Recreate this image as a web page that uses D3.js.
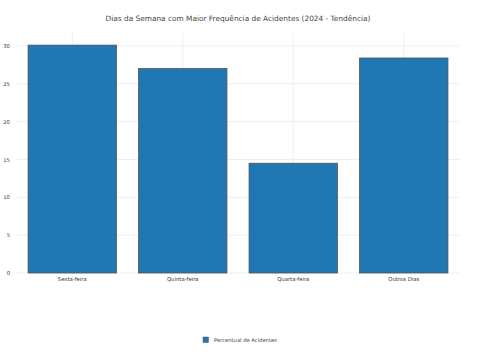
<!DOCTYPE html>
<html><head><meta charset="utf-8">
<script src="https://cdn.jsdelivr.net/npm/d3@7"></script>
<style>body{margin:0;background:#fff;} svg{display:block;font-family:"DejaVu Sans",Verdana,Arial,sans-serif;}</style>
</head><body>
<script>
const categories = ["Sexta-feira","Quinta-feira","Quarta-feira","Outros Dias"];
const values = [30.1, 27.0, 14.5, 28.4];
const yTicks = [0,5,10,15,20,25,30];
const title = "Dias da Semana com Maior Frequência de Acidentes (2024 - Tendência)";
const seriesName = "Percentual de Acidentes";

const W=483,H=356;
const m={l:17,r:24,t:33,b:83};
const svg=d3.select("body").append("svg").attr("width",W).attr("height",H);
const x=d3.scaleBand().domain(categories).range([m.l,W-m.r]).paddingInner(0.2).paddingOuter(0.1);
const y=d3.scaleLinear().domain([0,31.7]).range([H-m.b,m.t]);

function fit(sel,target){
  const n=sel.node(); const fs=+sel.attr("font-size");
  const w=n.getComputedTextLength(); if(w>0) sel.attr("font-size",(fs*target/w).toFixed(2));
}

const g=svg.append("g");
g.selectAll("line.h").data(yTicks).join("line").attr("x1",m.l).attr("x2",W-m.r)
 .attr("y1",d=>y(d)).attr("y2",d=>y(d)).attr("stroke","#eee").attr("stroke-width",1);
g.selectAll("line.v").data(categories).join("line").attr("y1",m.t).attr("y2",H-m.b)
 .attr("x1",d=>x(d)+x.bandwidth()/2).attr("x2",d=>x(d)+x.bandwidth()/2).attr("stroke","#eee");

g.selectAll("rect.bar").data(categories).join("rect").attr("class","bar")
 .attr("x",d=>x(d)).attr("width",x.bandwidth())
 .attr("y",(d,i)=>y(values[i])).attr("height",(d,i)=>y(0)-y(values[i]))
 .attr("fill","#1f77b4").attr("stroke","#555").attr("stroke-width",0.8);

const ya=d3.axisLeft(y).tickValues(yTicks).tickSize(0).tickPadding(7);
const yg=svg.append("g").attr("transform",`translate(${m.l},0)`).call(ya);
yg.select(".domain").remove();
yg.selectAll("text").attr("font-size",5).attr("fill","#444").attr("font-family","'DejaVu Sans',Verdana,sans-serif");

const xa=d3.axisBottom(x).tickSize(0).tickPadding(4);
const xg=svg.append("g").attr("transform",`translate(0,${H-m.b})`).call(xa);
xg.select(".domain").remove();
xg.selectAll("text").attr("font-size",5).attr("fill","#333").attr("font-family","'DejaVu Sans',Verdana,sans-serif");
const first=xg.select("text"); fit(first,29); const xfs=first.attr("font-size");
xg.selectAll("text").attr("font-size",xfs);
yg.selectAll("text").attr("font-size",xfs);

const t=svg.append("text").attr("x",238).attr("y",21).attr("text-anchor","middle")
 .attr("font-size",7).attr("fill","#444").text(title);
fit(t,265);

const lg=svg.append("g").attr("transform","translate(203,337)");
lg.append("rect").attr("width",5.5).attr("height",5.5).attr("fill","#1f77b4").attr("stroke","#555").attr("stroke-width",0.5);
const lt=lg.append("text").attr("x",11).attr("y",5).attr("font-size",5).attr("fill","#444").text(seriesName);
fit(lt,63);
</script>
</body></html>
